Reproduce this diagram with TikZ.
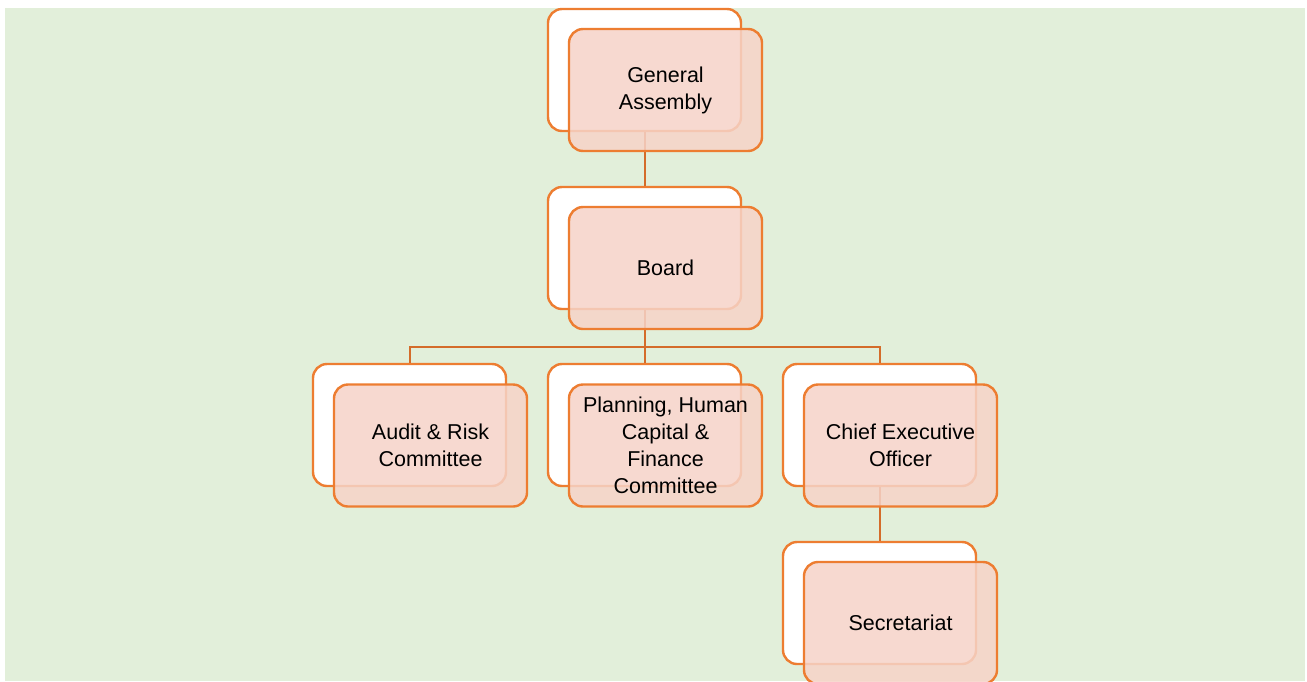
\documentclass[tikz,border=0pt]{standalone}
\usepackage{fontspec}
\setmainfont{Liberation Sans}
\usepackage{tikz}
\usetikzlibrary{positioning}

\definecolor{bggreen}{RGB}{226,239,218}
\definecolor{boxorange}{RGB}{237,125,49}
\definecolor{linkorange}{RGB}{212,108,42}
\definecolor{boxpink}{RGB}{246,211,200}

\begin{document}
\begin{tikzpicture}[x=1pt,y=-1pt,
    back/.style={draw=boxorange,line width=2.4pt,fill=white,rounded corners=14pt,
      minimum width=193pt,minimum height=122pt,inner sep=0pt},
    front/.style={draw=boxorange,line width=2.4pt,fill=boxpink,fill opacity=0.85,
      text opacity=1,rounded corners=14pt,minimum width=193pt,minimum height=122pt,
      inner sep=0pt,align=center,font=\fontsize{21.5}{27}\selectfont},
    link/.style={draw=linkorange,line width=2pt}]
  \useasboundingbox (0,0) rectangle (1307,681);
  \fill[bggreen] (5,8) rectangle (1305,681);

  % Back cards
  \node[back] (back_general_assembly) at (644.5,70) {};
  \node[back] (back_board) at (644.5,248) {};
  \node[back] (back_audit) at (409.5,425) {};
  \node[back] (back_planning) at (644.5,425) {};
  \node[back] (back_ceo) at (879.5,425) {};
  \node[back] (back_secretariat) at (879.5,603) {};

  % Connectors
  \coordinate (bus) at (644.5,347);
  \draw[link] (back_general_assembly.south) -- (back_board.north);
  \draw[link] (back_board.south) -- (bus);
  \draw[link] (bus) -| (back_audit.north);
  \draw[link] (bus) -- (back_planning.north);
  \draw[link] (bus) -| (back_ceo.north);
  \draw[link] (back_ceo.south) -- (back_secretariat.north);

  % Front cards
  \node[front] (general_assembly) at (665.5,90) {General\\Assembly};
  \node[front] (board) at (665.5,268) {Board};
  \node[front] (audit) at (430.5,445.5) {Audit \& Risk\\Committee};
  \node[front] (planning) at (665.5,445.5) {Planning, Human\\Capital \&\\Finance\\Committee};
  \node[front] (ceo) at (900.5,445.5) {Chief Executive\\Officer};
  \node[front] (secretariat) at (900.5,623) {Secretariat};
\end{tikzpicture}
\end{document}
